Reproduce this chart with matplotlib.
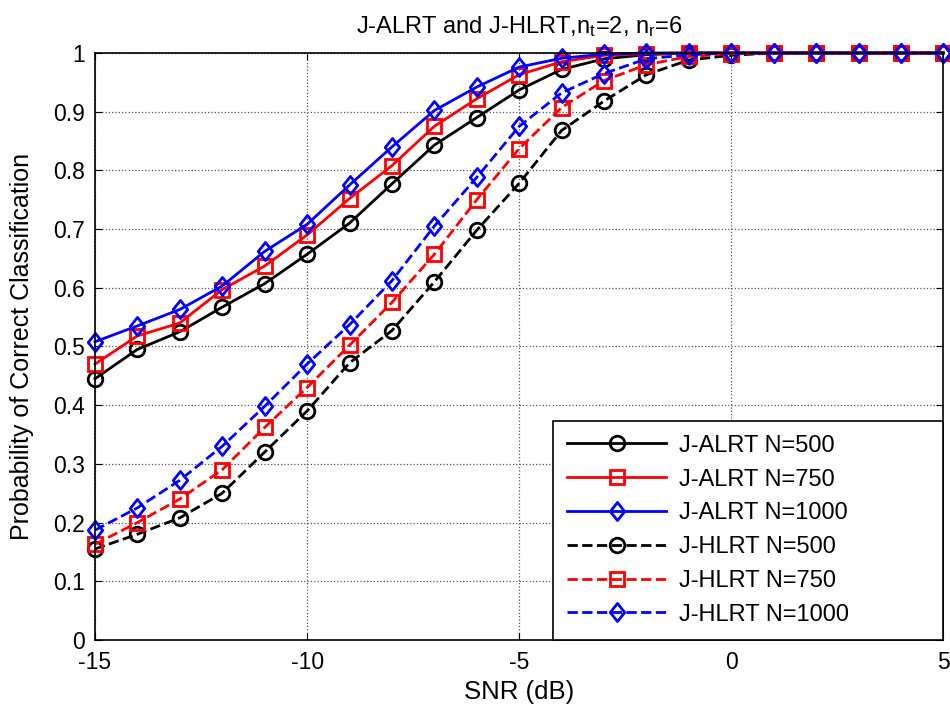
import matplotlib
matplotlib.use("Agg")
import matplotlib.pyplot as plt
from matplotlib.path import Path

plt.rcParams['font.family'] = ['Liberation Sans', 'DejaVu Sans']
plt.rcParams['mathtext.default'] = 'regular'
plt.rcParams['axes.unicode_minus'] = False

snr = list(range(-15, 6))

alrt_500 = [0.445, 0.495, 0.525, 0.567, 0.607, 0.657, 0.71, 0.777, 0.843, 0.89, 0.937,
            0.972, 0.99, 0.997, 1.0, 1.0, 1.0, 1.0, 1.0, 1.0, 1.0]
alrt_750 = [0.47, 0.518, 0.54, 0.597, 0.637, 0.69, 0.752, 0.808, 0.875, 0.922, 0.963,
            0.985, 0.996, 0.999, 1.0, 1.0, 1.0, 1.0, 1.0, 1.0, 1.0]
alrt_1000 = [0.508, 0.535, 0.563, 0.603, 0.662, 0.708, 0.775, 0.84, 0.902, 0.942, 0.976,
             0.991, 0.998, 1.0, 1.0, 1.0, 1.0, 1.0, 1.0, 1.0, 1.0]
hlrt_500 = [0.155, 0.18, 0.208, 0.25, 0.32, 0.39, 0.472, 0.527, 0.61, 0.698, 0.778,
            0.868, 0.918, 0.963, 0.988, 0.996, 1.0, 1.0, 1.0, 1.0, 1.0]
hlrt_750 = [0.163, 0.2, 0.24, 0.29, 0.362, 0.43, 0.502, 0.575, 0.657, 0.75, 0.837,
            0.907, 0.953, 0.98, 0.994, 0.999, 1.0, 1.0, 1.0, 1.0, 1.0]
hlrt_1000 = [0.187, 0.225, 0.272, 0.33, 0.398, 0.47, 0.537, 0.612, 0.705, 0.788, 0.875,
             0.932, 0.965, 0.99, 0.997, 1.0, 1.0, 1.0, 1.0, 1.0, 1.0]

# MATLAB-like diamond (a bit taller than wide)
diamond = Path([(0, 1), (0.8, 0), (0, -1), (-0.8, 0), (0, 1)],
               [Path.MOVETO, Path.LINETO, Path.LINETO, Path.LINETO, Path.CLOSEPOLY])

fig = plt.figure(figsize=(9.5, 7.11), dpi=100)
ax = fig.add_axes([0.1, 0.1, 0.893, 0.8255])

series = [
    (alrt_500, 'k', '-', 'o', 'J-ALRT N=500'),
    (alrt_750, 'r', '-', 's', 'J-ALRT N=750'),
    (alrt_1000, 'b', '-', diamond, 'J-ALRT N=1000'),
    (hlrt_500, 'k', '--', 'o', 'J-HLRT N=500'),
    (hlrt_750, 'r', '--', 's', 'J-HLRT N=750'),
    (hlrt_1000, 'b', '--', diamond, 'J-HLRT N=1000'),
]
for vals, c, ls, m, lab in series:
    ms = 13 if m is diamond else 10.5
    ax.plot(snr, vals, color=c, linestyle=ls, marker=m, markersize=ms,
            markerfacecolor='none', markeredgewidth=2, linewidth=2, label=lab,
            clip_on=False)

ax.set_xlim(-15, 5)
ax.set_ylim(0, 1)
ax.set_xticks([-15, -10, -5, 0, 5])
ax.set_yticks([i / 10 for i in range(11)])
ax.set_yticklabels(['0', '0.1', '0.2', '0.3', '0.4', '0.5', '0.6', '0.7', '0.8', '0.9', '1'])
ax.tick_params(direction='in', labelsize=16.5, top=True, right=True, length=5)
ax.tick_params(axis='x', pad=8)
ax.tick_params(axis='y', pad=7)
ax.grid(True, linestyle=':', color='#555555', linewidth=0.9)
for s in ax.spines.values():
    s.set_linewidth(1.2)

ax.set_xlabel('SNR (dB)', fontsize=18.5, labelpad=4)
ax.set_ylabel('Probability of Correct Classification', fontsize=18, labelpad=14)
ax.set_title('J-ALRT and J-HLRT,n$_t$=2, n$_r$=6', fontsize=17, pad=14)

leg = ax.legend(loc='lower left', bbox_to_anchor=(0.54, 0.0, 0.46, 0.3), mode='expand',
                fontsize=17, fancybox=False, framealpha=1, markerscale=1.0,
                edgecolor='k', handlelength=4.2, handletextpad=0.55,
                borderaxespad=0, labelspacing=0.5, borderpad=0.6)
leg.get_frame().set_linewidth(1.2)

fig.savefig('out.png', dpi=100)
